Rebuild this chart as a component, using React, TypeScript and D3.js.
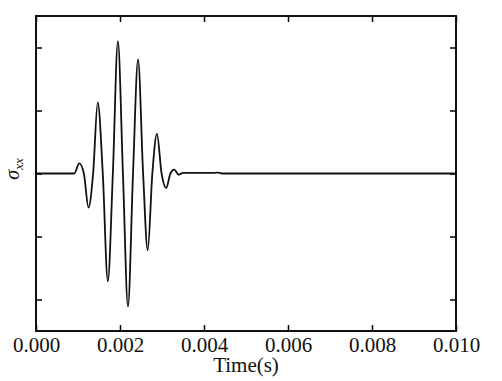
import React, { useEffect, useRef } from 'react';
import * as d3 from 'd3';

// waveform: time (s) and stress (arbitrary units)
const times = [
  0, 0.00091, 0.00103, 0.00114, 0.00125, 0.00136, 0.00147, 0.00159, 0.00171, 0.00183,
  0.00195, 0.00207, 0.00219, 0.00231, 0.00243, 0.00255, 0.00266, 0.00277, 0.00288, 0.00299,
  0.0031, 0.0032, 0.00329, 0.0034, 0.0035, 0.004, 0.00425, 0.00434, 0.00445, 0.010,
];
const sigma = [
  0, 0, 0.16, 0, -0.54, 0, 1.13, 0, -1.71, 0,
  2.1, 0, -2.11, 0, 1.81, 0, -1.22, 0, 0.63, 0,
  -0.23, 0, 0.06, -0.02, 0.01, 0.01, 0.01, 0.015, 0, 0,
];
const xTicks = [0, 0.002, 0.004, 0.006, 0.008, 0.01];
const yTicks = [-2, -1, 0, 1, 2];

const W = 502;
const H = 381;
const margin = { left: 36, right: 46, top: 16, bottom: 50 };
const font = '"Liberation Serif", "Times New Roman", serif';

const App = () => {
  const svgRef = useRef<SVGSVGElement>(null);

  useEffect(() => {
    const svg = d3.select(svgRef.current);
    svg.selectAll('*').remove();

    const x = d3.scaleLinear().domain([0, 0.01]).range([margin.left, W - margin.right]);
    const y = d3.scaleLinear().domain([-2.5, 2.5]).range([H - margin.bottom, margin.top]);

    const tick = 6;
    const g = svg.append('g');

    // inward ticks on all four sides
    g.append('g')
      .attr('transform', `translate(0,${y.range()[0]})`)
      .call(d3.axisBottom(x).tickValues(xTicks).tickSizeInner(-tick).tickSizeOuter(0).tickFormat(d3.format('.3f')))
      .call((a) => a.select('.domain').remove())
      .call((a) => a.selectAll('line').attr('stroke-width', 1.5))
      .call((a) =>
        a
          .selectAll('text')
          .attr('y', 21)
          .attr('dy', 0)
          .attr('font-family', font)
          .attr('font-size', 21)
          .attr('fill', '#111')
      );
    g.append('g')
      .attr('transform', `translate(0,${y.range()[1]})`)
      .call(d3.axisTop(x).tickValues(xTicks).tickSizeInner(-tick).tickSizeOuter(0).tickFormat(() => ''))
      .call((a) => a.select('.domain').remove())
      .call((a) => a.selectAll('line').attr('stroke-width', 1.5));
    g.append('g')
      .attr('transform', `translate(${x.range()[0]},0)`)
      .call(d3.axisLeft(y).tickValues(yTicks).tickSizeInner(-tick).tickSizeOuter(0).tickFormat(() => ''))
      .call((a) => a.select('.domain').remove())
      .call((a) => a.selectAll('line').attr('stroke-width', 1.5));
    g.append('g')
      .attr('transform', `translate(${x.range()[1]},0)`)
      .call(d3.axisRight(y).tickValues(yTicks).tickSizeInner(-tick).tickSizeOuter(0).tickFormat(() => ''))
      .call((a) => a.select('.domain').remove())
      .call((a) => a.selectAll('line').attr('stroke-width', 1.5));

    // frame
    g.append('rect')
      .attr('x', x.range()[0])
      .attr('y', y.range()[1])
      .attr('width', x.range()[1] - x.range()[0])
      .attr('height', y.range()[0] - y.range()[1])
      .attr('fill', 'none')
      .attr('stroke', '#111')
      .attr('stroke-width', 2);

    const pts = times.map((t, i) => [t, sigma[i]] as [number, number]);
    const line = d3
      .line<[number, number]>()
      .x((d) => x(d[0]))
      .y((d) => y(d[1]))
      .curve(d3.curveMonotoneX);

    g.append('path')
      .datum(pts)
      .attr('d', line)
      .attr('fill', 'none')
      .attr('stroke', '#111')
      .attr('stroke-width', 1.8);

    svg
      .append('text')
      .attr('x', (x.range()[0] + x.range()[1]) / 2)
      .attr('y', 372)
      .attr('text-anchor', 'middle')
      .attr('font-family', font)
      .attr('font-size', 21)
      .attr('fill', '#111')
      .text('Time(s)');

    const yl = svg
      .append('text')
      .attr('transform', `translate(19,169) rotate(-90)`)
      .attr('text-anchor', 'middle')
      .attr('font-family', font)
      .attr('font-style', 'italic')
      .attr('fill', '#111');
    yl.append('tspan').attr('font-size', 20).text('σ');
    yl.append('tspan').attr('font-size', 13).attr('dy', 4).text('xx');
  }, []);

  return (
    <svg
      ref={svgRef}
      width={W}
      height={H}
      style={{ position: 'absolute', left: 0, top: 0, background: '#fff' }}
    />
  );
};

export default App;
